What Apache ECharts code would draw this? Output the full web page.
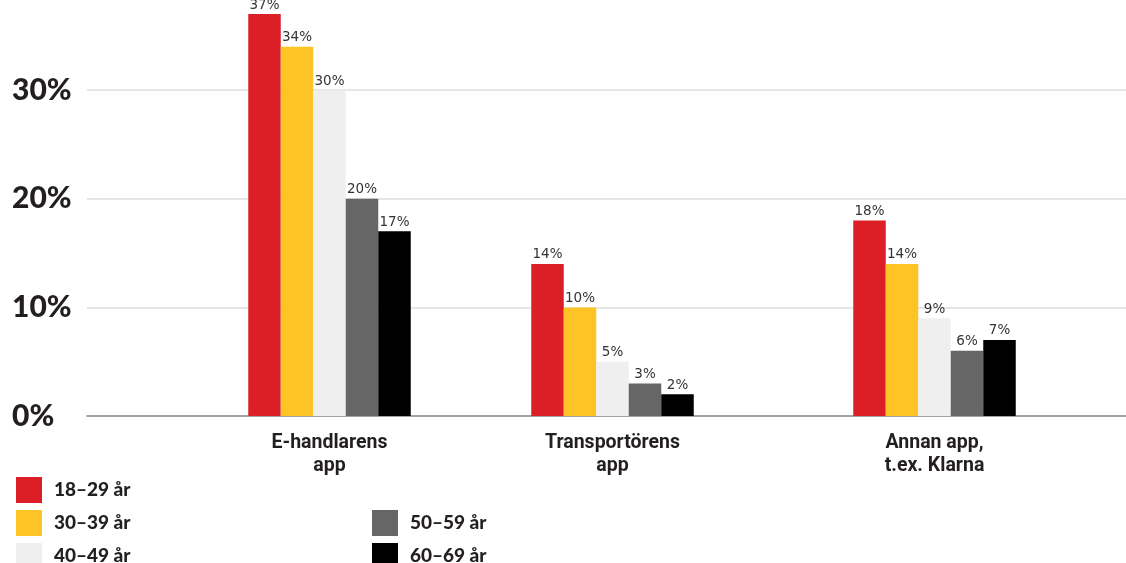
<!DOCTYPE html>
<html>
<head>
<meta charset="utf-8">
<style>
  html, body { margin: 0; padding: 0; background: #ffffff; }
  #chart { width: 1126px; height: 563px; }
</style>
<script src="https://cdn.jsdelivr.net/npm/echarts@6/dist/echarts.min.js"></script>
</head>
<body>
<div id="chart"></div>
<script>
// Categories (one group of bars each)
const categories = ['E-handlarens\napp', 'Transportörens\napp', 'Annan app,\nt.ex. Klarna'];

// Age groups (series names)
const ageGroups = ['18–29 år', '30–39 år', '40–49 år', '50–59 år', '60–69 år'];

// Share per age group, in category order (%)
const age18_29 = [37, 14, 18];
const age30_39 = [34, 10, 14];
const age40_49 = [30, 5, 9];
const age50_59 = [20, 3, 6];
const age60_69 = [17, 2, 7];

// Value axis ticks (%)
const yTicks = [0, 10, 20, 30];

const seriesValues = [age18_29, age30_39, age40_49, age50_59, age60_69];
const colors = ['#dc1f26', '#fec425', '#efefef', '#666666', '#000000'];

// Horizontal centre of each bar group and plot geometry
const groupCenters = [329.5, 612.5, 934.5];
const plotLeft = 87;
const plotTop = -18.5;
const plotBottom = 147;
const yMax = 40;

const grids = [{ left: plotLeft, right: 0, top: plotTop, bottom: plotBottom, outerBoundsMode: 'none' }];
const xAxes = [{
  gridIndex: 0, type: 'category', data: [''],
  axisLine: { show: true, lineStyle: { color: '#a3a3a3', width: 2 } },
  axisTick: { show: false }, axisLabel: { show: false }, splitLine: { show: false }
}];
const yAxes = [{
  gridIndex: 0, type: 'value', min: yTicks[0], max: yMax, interval: yTicks[1] - yTicks[0],
  axisLine: { show: false }, axisTick: { show: false },
  axisLabel: {
    formatter: v => (yTicks.indexOf(v) >= 0 ? v + '%' : ''),
    align: 'left', margin: 75,
    fontFamily: 'Lato', fontWeight: 900, fontSize: 30, color: '#231f20'
  },
  splitLine: { show: true, lineStyle: { color: '#e6e6e6', width: 2 } }
}];

// One sub-grid per category so each bar group sits at its own centre
groupCenters.forEach((c, g) => {
  grids.push({ left: c - 120, width: 240, top: plotTop, bottom: plotBottom, outerBoundsMode: 'none' });
  xAxes.push({
    gridIndex: g + 1, type: 'category', data: [categories[g]],
    axisLine: { show: false }, axisTick: { show: false },
    axisLabel: {
      margin: 16, lineHeight: 23,
      fontFamily: 'Roboto', fontWeight: 'bold', fontSize: 19.5, color: '#231f20'
    }
  });
  yAxes.push({ gridIndex: g + 1, type: 'value', min: 0, max: yMax, show: false });
});

const series = [];
groupCenters.forEach((c, g) => {
  ageGroups.forEach((name, a) => {
    series.push({
      name: name, type: 'bar',
      xAxisIndex: g + 1, yAxisIndex: g + 1,
      data: [seriesValues[a][g]],
      barWidth: 32.5, barGap: '0%',
      itemStyle: { color: colors[a] },
      label: {
        show: true, position: 'top', distance: 2,
        formatter: '{c}%',
        fontFamily: 'DejaVu Sans', fontSize: 13.5, color: '#333333'
      },
      emphasis: { disabled: true }
    });
  });
});

// Legend: two columns of square swatches
const legendSlots = [
  { left: 16, top: 477 }, { left: 16, top: 510 }, { left: 16, top: 543 },
  { left: 372, top: 510 }, { left: 372, top: 543 }
];
const legends = ageGroups.map((name, i) => ({
  data: [name], left: legendSlots[i].left, top: legendSlots[i].top,
  padding: 0, icon: 'rect', itemWidth: 26, itemHeight: 26,
  textStyle: {
    fontFamily: 'Lato', fontWeight: 900, fontSize: 19, color: '#231f20',
    padding: [0, 0, 0, 7]
  }
}));

const option = {
  animation: false,
  backgroundColor: '#ffffff',
  color: colors,
  grid: grids,
  xAxis: xAxes,
  yAxis: yAxes,
  legend: legends,
  series: series
};

const chart = echarts.init(document.getElementById('chart'), null, { renderer: 'canvas' });
chart.setOption(option);
</script>
</body>
</html>
